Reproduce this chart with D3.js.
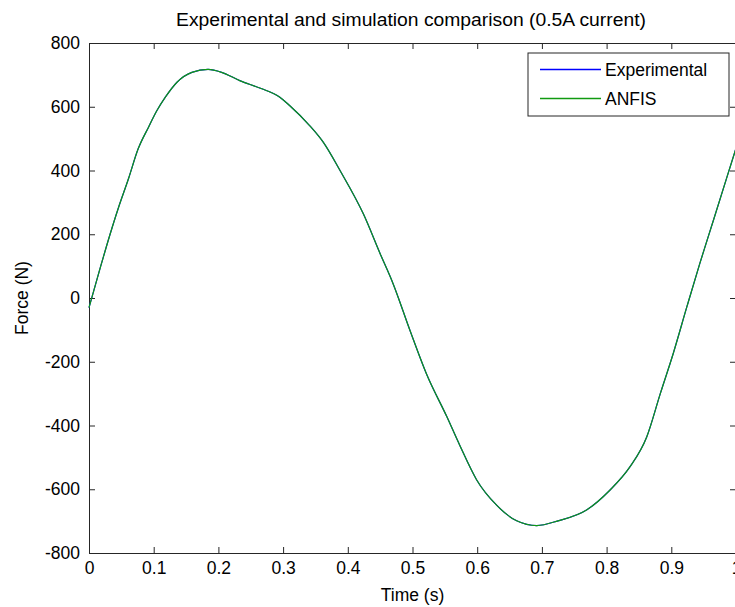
<!DOCTYPE html>
<html>
<head>
<meta charset="utf-8">
<script src="https://cdn.jsdelivr.net/npm/d3@7"></script>
<style>
  body { margin: 0; background: #fff; }
  text { font-family: "Liberation Sans", Arial, sans-serif; fill: #000; }
</style>
</head>
<body>
<div id="chart-area"></div>
<script>
// Data
var timeValues = [0, 0.017, 0.032, 0.045, 0.061, 0.076, 0.092, 0.105, 0.118, 0.136, 0.159, 0.184,
    0.205, 0.233, 0.265, 0.295, 0.31, 0.341, 0.362, 0.388, 0.424, 0.45, 0.47, 0.496, 0.522, 0.553,
    0.573, 0.599, 0.63, 0.661, 0.692, 0.725, 0.769, 0.805, 0.836, 0.862, 0.883, 0.903, 0.924, 0.944,
    0.965, 0.986, 1.0]
var anfisForce = [-30, 92, 196, 280, 374, 468, 536, 588, 630, 677, 708, 717,
    708, 682, 658, 630, 604, 541, 489, 400, 264, 139, 45, -101, -240, -372,
    -462, -570, -650, -699, -714, -699, -665, -603, -530, -436, -300, -174, -28, 108,
    243, 379, 470]
// experimental trace sits exactly under the ANFIS one
var experimentalForce = anfisForce.slice()

var xTicks = [0, 0.1, 0.2, 0.3, 0.4, 0.5, 0.6, 0.7, 0.8, 0.9, 1]
var yTicks = [-800, -600, -400, -200, 0, 200, 400, 600, 800]
var seriesNames = ["Experimental", "ANFIS"]
var seriesColors = ["#0000ff", "#109a10"]

var margin = {top: 43, right: -1, bottom: 54, left: 89},
    width = 735 - margin.left - margin.right,
    height = 607 - margin.top - margin.bottom

var svg = d3.select("#chart-area")
    .append("svg")
        .attr("width", 735)
        .attr("height", 607)

var g = svg.append("g")
    .attr("transform", "translate(" + margin.left + ", " + margin.top + ")")

var x = d3.scaleLinear().domain([0, 1]).range([0, width])
var y = d3.scaleLinear().domain([-800, 800]).range([height, 0])

// Axes (MATLAB style: ticks pointing inward, box all round)
var axisColor = "#262626"
var tickLen = 6

var xAxis = g.append("g")
    .attr("transform", "translate(0, " + height + ")")
    .call(d3.axisBottom(x).tickValues(xTicks).tickSize(-tickLen).tickPadding(9)
        .tickFormat(d => d === 0 || d === 1 ? d : d3.format(".1f")(d)))
xAxis.selectAll("text").attr("font-size", 17.5).attr("dy", "0.71em")

var yAxis = g.append("g")
    .call(d3.axisLeft(y).tickValues(yTicks).tickSize(-tickLen).tickPadding(9)
        .tickFormat(d => String(d)))
yAxis.selectAll("text").attr("font-size", 17.5)

g.append("g")
    .call(d3.axisTop(x).tickValues(xTicks).tickSize(-tickLen).tickFormat(""))
g.append("g")
    .attr("transform", "translate(" + width + ", 0)")
    .call(d3.axisRight(y).tickValues(yTicks).tickSize(-tickLen).tickFormat(""))

g.selectAll(".domain").attr("stroke", axisColor)
g.selectAll(".tick line").attr("stroke", axisColor)
g.selectAll(".tick text").attr("fill", "#000").attr("font-family", "'Liberation Sans', Arial, sans-serif")

// Lines
var line = d3.line()
    .x(d => x(d[0]))
    .y(d => y(d[1]))
    .curve(d3.curveMonotoneX)

var allSeries = [experimentalForce, anfisForce]
allSeries.forEach(function(vals, i){
    g.append("path")
        .datum(timeValues.map((t, k) => [t, vals[k]]))
        .attr("fill", "none")
        .attr("stroke", seriesColors[i])
        .attr("stroke-width", 1.2)
        .attr("d", line)
})

// Title and axis labels
svg.append("text")
    .attr("x", 411)
    .attr("y", 26)
    .attr("text-anchor", "middle")
    .attr("font-size", 17.5)
    .attr("textLength", 470)
    .attr("lengthAdjust", "spacingAndGlyphs")
    .text("Experimental and simulation comparison (0.5A current)")

svg.append("text")
    .attr("x", margin.left + width / 2)
    .attr("y", 601)
    .attr("text-anchor", "middle")
    .attr("font-size", 17.5)
    .text("Time (s)")

svg.append("text")
    .attr("transform", "translate(28, " + (margin.top + height / 2) + ") rotate(-90)")
    .attr("text-anchor", "middle")
    .attr("font-size", 17.5)
    .text("Force (N)")

// Legend
var legend = svg.append("g")
    .attr("transform", "translate(528, 53)")
legend.append("rect")
    .attr("width", 201)
    .attr("height", 63)
    .attr("fill", "#fff")
    .attr("stroke", axisColor)
    .attr("stroke-width", 1)
seriesNames.forEach(function(name, i){
    var ly = 16.5 + i * 29
    legend.append("line")
        .attr("x1", 12).attr("x2", 73)
        .attr("y1", ly).attr("y2", ly)
        .attr("stroke", seriesColors[i])
        .attr("stroke-width", 1.5)
    legend.append("text")
        .attr("x", 77)
        .attr("y", ly + 6)
        .attr("font-size", 17.5)
        .text(name)
})
</script>
</body>
</html>
